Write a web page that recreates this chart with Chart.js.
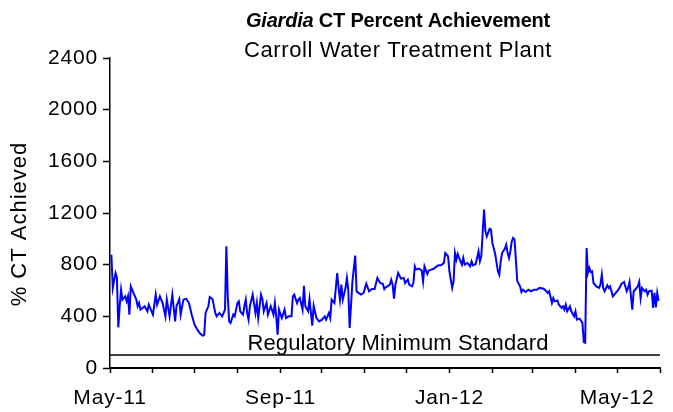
<!DOCTYPE html>
<html lang="en">
<head>
<meta charset="UTF-8" />
<title>Giardia CT Percent Achievement</title>
<script src="https://cdn.jsdelivr.net/npm/chart.js"></script>
<style>
  html, body { margin: 0; padding: 0; background: #fff; }
</style>
</head>
<body>
<canvas id="ctChart" width="673" height="412"></canvas>
<script>
// days since 1 May 2011
const dayIndex = [
  1, 2, 4, 5, 6, 7, 8, 9, 11, 12, 13, 14, 15, 17, 19, 20, 21, 22, 25, 27, 28, 31, 33, 34, 36, 38, 40, 41, 43, 45,
  47, 48, 50, 51, 53, 55, 57, 59, 61, 63, 65, 67, 68, 69, 71, 72, 74, 76, 77, 79, 81, 83, 84, 85, 86, 87, 89, 90, 92, 93,
  94, 96, 97, 98, 99, 100, 101, 103, 105, 106, 107, 109, 110, 111, 113, 114, 116, 118, 119, 120, 121, 122, 124, 126, 127, 129, 131, 132, 133, 135,
  136, 137, 139, 140, 141, 143, 144, 146, 147, 149, 151, 153, 155, 156, 158, 159, 160, 162, 164, 165, 166, 167, 168, 170, 171, 172, 173, 175, 177, 178,
  181, 183, 185, 187, 189, 191, 193, 195, 197, 198, 199, 202, 203, 204, 205, 206, 208, 210, 212, 213, 215, 216, 218, 219, 220, 221, 223, 225, 226, 227,
  229, 230, 232, 234, 235, 237, 239, 241, 242, 244, 245, 247, 248, 249, 250, 251, 252, 254, 255, 256, 258, 260, 261, 262, 264, 266, 267, 268, 269, 270,
  271, 272, 274, 275, 276, 277, 278, 280, 281, 282, 283, 285, 286, 287, 288, 289, 290, 291, 292, 294, 296, 297, 298, 300, 302, 304, 306, 308, 310, 313,
  315, 316, 317, 319, 320, 321, 323, 324, 326, 327, 328, 329, 330, 332, 333, 335, 336, 337, 339, 341, 342, 343, 344, 345, 346, 347, 348, 349, 351, 353,
  354, 355, 356, 357, 359, 360, 361, 363, 364, 366, 368, 369, 371, 372, 373, 374, 375, 377, 378, 379, 381, 382, 383, 384, 386, 387, 388, 389, 391, 392,
  393, 394, 395, 396
];

// % CT achieved on each of those days
const ctPercent = [
  877, 620, 735, 697, 315, 478, 606, 529, 555, 516, 555, 413, 632, 580, 529, 478, 503, 452, 478, 439, 490, 413, 568, 490, 555, 503, 400, 529, 400, 568,
  361, 478, 534, 413, 529, 537, 503, 413, 336, 297, 266, 250, 258, 426, 478, 550, 534, 426, 400, 426, 400, 452, 942, 555, 361, 348, 413, 400, 503, 516,
  439, 413, 478, 529, 426, 374, 478, 568, 426, 503, 387, 568, 534, 439, 503, 413, 478, 413, 503, 400, 258, 452, 387, 452, 387, 400, 400, 555, 568, 503,
  529, 542, 452, 637, 478, 439, 534, 328, 482, 387, 361, 374, 400, 374, 426, 387, 529, 503, 735, 619, 529, 645, 529, 619, 697, 606, 310, 671, 870, 593,
  568, 580, 653, 593, 611, 611, 697, 658, 650, 611, 624, 645, 684, 645, 537, 645, 736, 692, 697, 658, 684, 645, 632, 658, 787, 762, 770, 754, 671, 787,
  728, 754, 762, 770, 780, 795, 795, 813, 890, 865, 749, 620, 671, 890, 839, 883, 852, 800, 852, 800, 813, 787, 826, 795, 805, 903, 826, 865, 1045, 1226,
  1058, 1019, 1078, 1071, 968, 929, 883, 749, 723, 826, 890, 923, 955, 890, 852, 903, 981, 1007, 994, 671, 632, 588, 606, 588, 606, 594, 606, 606, 620, 614,
  594, 581, 594, 503, 542, 516, 522, 490, 465, 477, 452, 490, 439, 477, 439, 400, 439, 374, 382, 349, 200, 195, 929, 736, 775, 743, 749, 658, 632, 620,
  645, 723, 620, 594, 640, 620, 632, 555, 568, 594, 624, 650, 666, 632, 594, 620, 666, 452, 594, 606, 632, 666, 542, 620, 594, 606, 568, 594, 599, 465,
  581, 470, 581, 520
];

const regulatoryMinimum = 100;

// month boundaries (days since 1 May 2011) and their names
const monthStarts = [0, 31, 61, 92, 123, 153, 184, 214, 245, 276, 305, 336, 366, 397];
const monthNames = ['May-11', 'Jun-11', 'Jul-11', 'Aug-11', 'Sep-11', 'Oct-11', 'Nov-11', 'Dec-11',
                    'Jan-12', 'Feb-12', 'Mar-12', 'Apr-12', 'May-12', 'Jun-12'];
const labeledMonths = ['May-11', 'Sep-11', 'Jan-12', 'May-12'];
const yTicks = [0, 400, 800, 1200, 1600, 2000, 2400];

const FONT = "'Liberation Sans', Arial, sans-serif";

// the reference text is set a little loose, so widen the tick labels too
const looseText = {
  id: 'looseText',
  beforeDraw(chart) { chart.ctx.save(); chart.ctx.letterSpacing = '0.8px'; },
  afterDraw(chart) { chart.ctx.restore(); }
};

// title with italic genus name, y axis title, and label over the regulatory line
const annotations = {
  id: 'annotations',
  afterDraw(chart) {
    const ctx = chart.ctx;
    const area = chart.chartArea;
    const cx = (area.left + area.right) / 2 + 13;
    ctx.save();
    ctx.fillStyle = '#000';
    ctx.textBaseline = 'alphabetic';

    const part1 = 'Giardia';
    const part2 = ' CT Percent Achievement';
    ctx.letterSpacing = '-0.2px';
    ctx.font = 'italic bold 20px ' + FONT;
    const w1 = ctx.measureText(part1).width;
    ctx.font = 'bold 20px ' + FONT;
    const w2 = ctx.measureText(part2).width;
    const x0 = cx - (w1 + w2) / 2;
    ctx.font = 'italic bold 20px ' + FONT;
    ctx.textAlign = 'left';
    ctx.fillText(part1, x0, 27);
    ctx.font = 'bold 20px ' + FONT;
    ctx.fillText(part2, x0 + w1, 27);

    ctx.letterSpacing = '0.6px';
    ctx.font = '22px ' + FONT;
    ctx.textAlign = 'center';
    ctx.fillText('Carroll Water Treatment Plant', cx, 57);

    const yLine = chart.scales.y.getPixelForValue(regulatoryMinimum);
    ctx.letterSpacing = '0.15px';
    ctx.font = '22px ' + FONT;
    ctx.fillText('Regulatory Minimum Standard', cx, yLine - 5);

    // rotated axis title
    ctx.letterSpacing = '1px';
    ctx.font = '22px ' + FONT;
    ctx.translate(20, (area.top + area.bottom) / 2 + 11);
    ctx.rotate(-Math.PI / 2);
    ctx.textBaseline = 'middle';
    ctx.fillText('% CT Achieved', 0, 0);
    ctx.restore();
  }
};

new Chart(document.getElementById('ctChart').getContext('2d'), {
  type: 'line',
  data: {
    datasets: [
      {
        label: '% CT Achieved',
        data: dayIndex.map((d, i) => ({ x: d, y: ctPercent[i] })),
        borderColor: '#0000ff',
        borderWidth: 2,
        pointRadius: 0,
        tension: 0
      },
      {
        label: 'Regulatory Minimum Standard',
        data: [{ x: monthStarts[0], y: regulatoryMinimum }, { x: monthStarts[monthStarts.length - 1], y: regulatoryMinimum }],
        borderColor: '#000',
        borderWidth: 1.5,
        pointRadius: 0
      }
    ]
  },
  options: {
    responsive: false,
    animation: false,
    devicePixelRatio: 1,
    layout: { padding: { top: 58, right: 2, left: 0, bottom: 0 } },
    plugins: {
      legend: { display: false },
      tooltip: { enabled: false }
    },
    scales: {
      x: {
        type: 'linear',
        min: monthStarts[0],
        max: monthStarts[monthStarts.length - 1],
        afterBuildTicks: s => { s.ticks = monthStarts.map(v => ({ value: v })); },
        afterFit: s => { s.height = 44; },
        ticks: {
          autoSkip: false,
          maxRotation: 0,
          padding: 13,
          color: '#000',
          font: { family: FONT, size: 21 },
          callback: v => {
            const name = monthNames[monthStarts.indexOf(v)];
            return labeledMonths.includes(name) ? name : '';
          }
        },
        grid: { drawOnChartArea: false, drawTicks: true, tickLength: 5, tickColor: '#000', tickWidth: 1.5 },
        border: { display: true, color: '#000', width: 2 }
      },
      y: {
        min: yTicks[0],
        max: yTicks[yTicks.length - 1],
        afterBuildTicks: s => { s.ticks = yTicks.map(v => ({ value: v })); },
        afterFit: s => { s.width = 110; },
        ticks: {
          padding: 5,
          color: '#000',
          font: { family: FONT, size: 21 },
          callback: v => String(v)
        },
        grid: { drawOnChartArea: false, drawTicks: true, tickLength: 7, tickColor: '#000', tickWidth: 1.5 },
        border: { display: true, color: '#000', width: 1.5 }
      }
    }
  },
  plugins: [looseText, annotations]
});
</script>
</body>
</html>
